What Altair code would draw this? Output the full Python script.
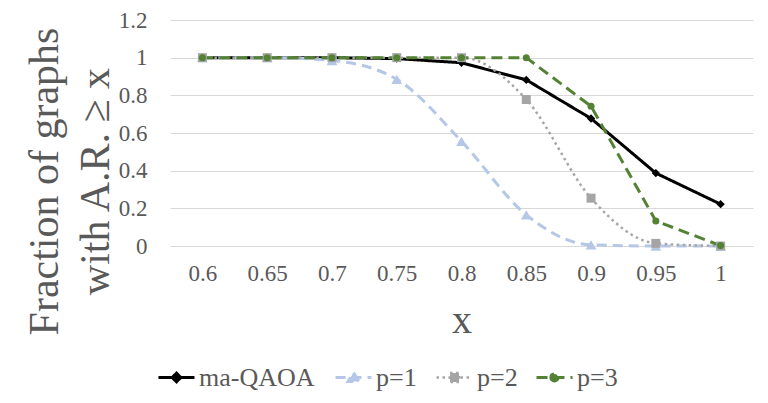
import altair as alt
import pandas as pd

# ---- data ----
x_labels = ["0.6", "0.65", "0.7", "0.75", "0.8", "0.85", "0.9", "0.95", "1"]
series_names = ["ma-QAOA", "p=1", "p=2", "p=3"]
ma_qaoa = [1, 1, 1, 0.995, 0.973, 0.882, 0.677, 0.387, 0.222]
p1 = [1, 1, 0.985, 0.885, 0.556, 0.165, 0.006, 0, 0]
p2 = [1, 1, 1, 1, 1, 0.778, 0.254, 0.014, 0]
p3 = [1, 1, 1, 1, 1, 1, 0.742, 0.133, 0.002]
y_ticks = [0, 0.2, 0.4, 0.6, 0.8, 1, 1.2]

# ---- styles ----
colors = ["#000000", "#B4C7E7", "#A5A5A5", "#548235"]
dashes = [[1, 0], [10, 6], [2.5, 3.5], [11, 6]]
point_shapes = ["diamond", "triangle-up", "square", "circle"]
point_sizes = [70, 115, 81, 50]
line_widths = [3, 3, 2.5, 3]
interps = ["linear", "monotone", "monotone", "linear"]
legend_paths = [
    "M-1,0H1M0,-0.24L0.24,0L0,0.24L-0.24,0Z",
    "M-1,0H1M0,-0.27L0.3,0.22L-0.3,0.22Z",
    "M-1,0H1M-0.25,-0.25H0.25V0.25H-0.25Z",
    "M-1,0H1M-0.2,0A0.2,0.2 0 1,0 0.2,0A0.2,0.2 0 1,0 -0.2,0Z",
]
legend_x = [-13, 164, 265, 365]

rows = []
for name, vals in zip(series_names, [ma_qaoa, p1, p2, p3]):
    for xl, v in zip(x_labels, vals):
        rows.append({"x": xl, "value": v, "series": name})
df = pd.DataFrame(rows)

FONT = "Liberation Serif"
TXT = "#595959"

x_enc = alt.X(
    "x:O",
    sort=x_labels,
    scale=alt.Scale(type="point", domain=x_labels, padding=0.5),
    axis=alt.Axis(
        labelAngle=0,
        grid=False,
        domain=False,
        ticks=False,
        tickSize=0,
        labelPadding=27,
        labelBaseline="middle",
        labelFont=FONT,
        labelFontSize=23,
        labelColor=TXT,
        title="x",
        titleFont=FONT,
        titleFontSize=40,
        titleFontWeight="normal",
        titleColor=TXT,
        titleX=291.5,
        titleY=86,
        titleAlign="center",
        titleBaseline="alphabetic",
    ),
)

y_enc = alt.Y(
    "value:Q",
    scale=alt.Scale(domain=[0, 1.2], nice=False),
    axis=alt.Axis(
        values=y_ticks,
        format="~g",
        grid=True,
        gridColor="#D9D9D9",
        gridWidth=1,
        domain=False,
        ticks=False,
        tickSize=0,
        labelPadding=23,
        labelFont=FONT,
        labelFontSize=23,
        labelColor=TXT,
        title=["Fraction of graphs", "with A.R. ≥ x"],
        titleFont=FONT,
        titleFontSize=42,
        titleFontWeight="normal",
        titleColor=TXT,
        titleAngle=270,
        titleX=-113,
        titleY=161,
        titleAlign="center",
        titleBaseline="alphabetic",
        titleLineHeight=51,
    ),
)

base = alt.Chart(df)
line_layers = []
point_layers = []
for i, name in enumerate(series_names):
    legend = alt.Legend(
        title=None,
        orient="none",
        legendX=legend_x[i],
        legendY=338,
        direction="horizontal",
        symbolType=legend_paths[i],
        symbolSize=1296,
        symbolStrokeWidth=line_widths[i],
        symbolDash=dashes[i],
        symbolStrokeColor=colors[i],
        symbolFillColor=colors[i],
        labelFont=FONT,
        labelFontSize=26,
        labelColor=TXT,
        labelOffset=3,
        padding=0,
    )
    line_layers.append(
        base.transform_filter(alt.datum.series == name)
        .mark_line(
            strokeWidth=line_widths[i],
            interpolate=interps[i],
            strokeDash=dashes[i],
        )
        .encode(
            x=x_enc,
            y=y_enc,
            color=alt.Color(
                "series:N",
                scale=alt.Scale(domain=[name], range=[colors[i]]),
                legend=legend,
            ),
        )
    )
    point_layers.append(
        base.transform_filter(alt.datum.series == name)
        .mark_point(
            filled=True,
            shape=point_shapes[i],
            size=point_sizes[i],
            color=colors[i],
            opacity=1,
        )
        .encode(x=x_enc, y=y_enc)
    )

chart = (
    alt.layer(*line_layers, *point_layers)
    .resolve_scale(color="independent")
    .resolve_legend(color="independent")
    .properties(
        width=583,
        height=226,
        autosize="none",
        padding={"left": 162, "top": 12, "right": 7, "bottom": 149},
    )
    .configure(background="white", font=FONT)
    .configure_axis(labelFont=FONT, titleFont=FONT)
    .configure_legend(labelFont=FONT, titleFont=FONT)
    .configure_view(stroke=None)
)

chart.save("out.html", embed_options={"renderer": "svg", "actions": False})
